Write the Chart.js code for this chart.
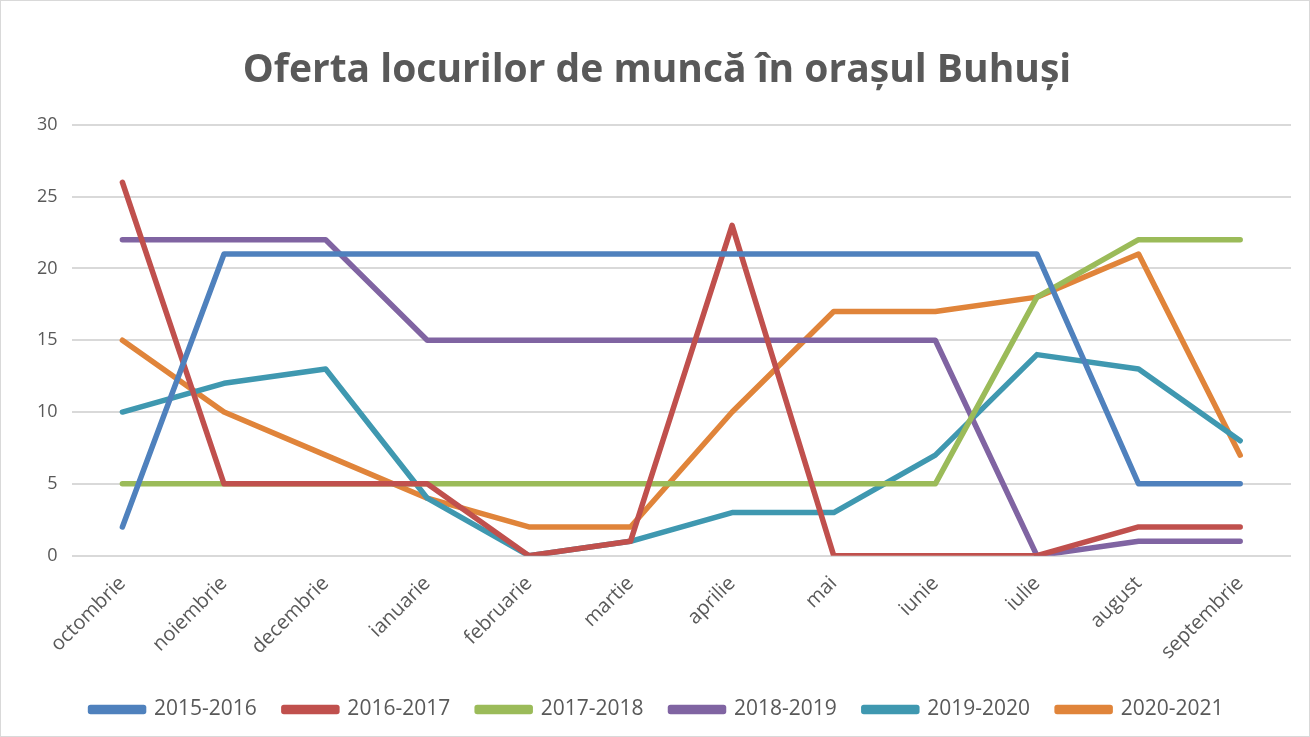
<!DOCTYPE html>
<html>
<head>
<meta charset="utf-8">
<script src="https://cdn.jsdelivr.net/npm/chart.js@4"></script>
<style>
  html, body { margin: 0; padding: 0; background: #fff; }
  .chart-container { position: relative; width: 1310px; height: 737px; box-sizing: border-box; border: 1px solid #d9d9d9; }
</style>
</head>
<body>
<div class="chart-container"><canvas id="myChart"></canvas></div>
<script>
const months = ["octombrie", "noiembrie", "decembrie", "ianuarie", "februarie", "martie", "aprilie", "mai", "iunie", "iulie", "august", "septembrie"];
const years = ["2015-2016", "2016-2017", "2017-2018", "2018-2019", "2019-2020", "2020-2021"];
const s2015 = [2, 21, 21, 21, 21, 21, 21, 21, 21, 21, 5, 5];
const s2016 = [26, 5, 5, 5, 0, 1, 23, 0, 0, 0, 2, 2];
const s2017 = [5, 5, 5, 5, 5, 5, 5, 5, 5, 18, 22, 22];
const s2018 = [22, 22, 22, 15, 15, 15, 15, 15, 15, 0, 1, 1];
const s2019 = [10, 12, 13, 4, 0, 1, 3, 3, 7, 14, 13, 8];
const s2020 = [15, 10, 7, 4, 2, 2, 10, 17, 17, 18, 21, 7];
const colors = ["#4f81bd", "#c0504d", "#9bbb59", "#8064a2", "#3f98b0", "#e0843a"];

const allSeries = [s2015, s2016, s2017, s2018, s2019, s2020];
const textColor = "#595959";

const ctx = document.getElementById("myChart").getContext("2d");
const chart = new Chart(ctx, {
  type: "line",
  data: {
    labels: months,
    datasets: allSeries.map((vals, i) => ({
      label: years[i],
      data: vals,
      borderColor: colors[i],
      backgroundColor: colors[i],
      borderWidth: 5.5,
      pointRadius: 0,
      pointHoverRadius: 0,
      tension: 0,
      borderCapStyle: "round",
      borderJoinStyle: "round",
    })),
  },
  options: {
    responsive: true,
    maintainAspectRatio: false,
    animation: false,
    layout: { padding: { left: 22, right: 18, top: 20, bottom: 6 } },
    plugins: {
      title: {
        display: true,
        text: "Oferta locurilor de muncă în orașul Buhuși",
        color: textColor,
        font: { family: "Open Sans", size: 39, weight: "bold" },
        padding: { top: 26, bottom: 31 },
      },
      legend: {
        position: "bottom",
        labels: {
          color: textColor,
          font: { family: "Open Sans", size: 21 },
          boxWidth: 53,
          boxHeight: 4,
          padding: 27,
        },
      },
      tooltip: { enabled: false },
    },
    scales: {
      y: {
        min: 0,
        max: 30,
        ticks: { stepSize: 5, color: textColor, font: { family: "Open Sans", size: 18 }, padding: 14 },
        grid: { color: "#d9d9d9", lineWidth: 2, drawTicks: false },
        border: { display: false },
      },
      x: {
        offset: true,
        ticks: { color: textColor, font: { family: "Open Sans", size: 20 }, minRotation: 45, maxRotation: 45, padding: 8 },
        grid: { display: false },
        border: { display: false },
      },
    },
  },
});
</script>
</body>
</html>
